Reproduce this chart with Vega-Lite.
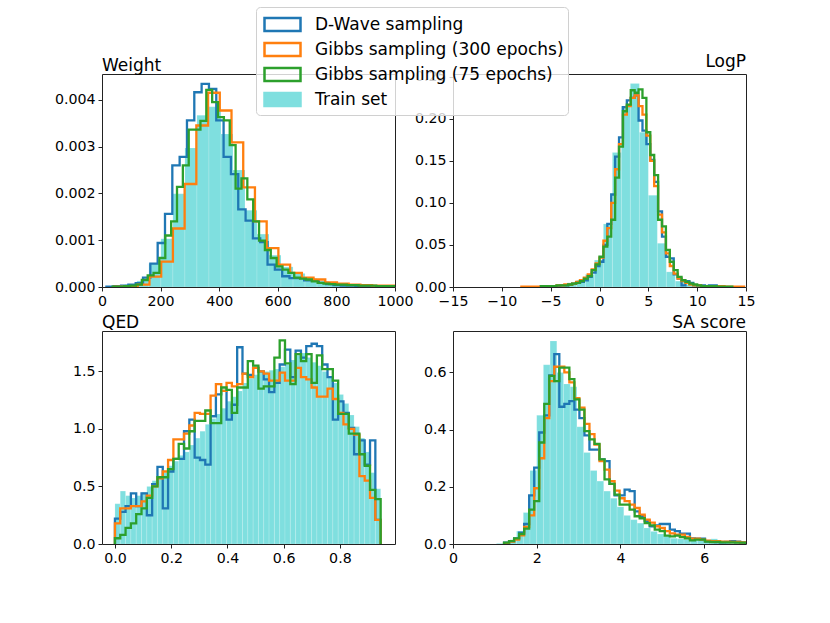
{
  "$schema": "https://vega.github.io/schema/vega-lite/v6.json",
  "description": "Histograms of Weight, LogP, QED and SA score for D-Wave sampling, Gibbs sampling and the train set",
  "padding": {"left": 53, "top": 6, "right": 0, "bottom": 0},
  "columns": 2,
  "spacing": {"row": 44, "column": 58},
  "bounds": "flush",
  "resolve": {"scale": {"x": "independent", "y": "independent", "color": "shared"}},
  "datasets": {
    "wT": [
      {"x": 37, "x2": 78, "y": 0.00002}, {"x": 78, "x2": 119, "y": 0.00005}, {"x": 119, "x2": 160, "y": 0.00013},
      {"x": 160, "x2": 201, "y": 0.0005}, {"x": 201, "x2": 242, "y": 0.00103}, {"x": 242, "x2": 283, "y": 0.00199},
      {"x": 283, "x2": 324, "y": 0.00297}, {"x": 324, "x2": 365, "y": 0.00367}, {"x": 365, "x2": 406, "y": 0.00385},
      {"x": 406, "x2": 447, "y": 0.00327}, {"x": 447, "x2": 488, "y": 0.0025}, {"x": 488, "x2": 529, "y": 0.00164},
      {"x": 529, "x2": 570, "y": 0.00113}, {"x": 570, "x2": 611, "y": 0.00068}, {"x": 611, "x2": 652, "y": 0.00043},
      {"x": 652, "x2": 693, "y": 0.00029}, {"x": 693, "x2": 734, "y": 0.00018}, {"x": 734, "x2": 775, "y": 0.00012},
      {"x": 775, "x2": 816, "y": 0.00008}, {"x": 816, "x2": 857, "y": 0.00006}, {"x": 857, "x2": 898, "y": 0.00004},
      {"x": 898, "x2": 939, "y": 0.00003}, {"x": 939, "x2": 980, "y": 0.00003}, {"x": 980, "x2": 1021, "y": 0.00002}
    ],
    "wD": [
      {"x": 15, "y": 0}, {"x": 15, "y": 0.00001}, {"x": 40, "y": 0.00002}, {"x": 65, "y": 0.00003}, {"x": 90, "y": 0.00005},
      {"x": 115, "y": 0.00008}, {"x": 140, "y": 0.0002}, {"x": 165, "y": 0.0005}, {"x": 190, "y": 0.00094},
      {"x": 215, "y": 0.00156}, {"x": 240, "y": 0.0026}, {"x": 265, "y": 0.00278}, {"x": 290, "y": 0.00356},
      {"x": 315, "y": 0.00416}, {"x": 340, "y": 0.00434}, {"x": 365, "y": 0.00423}, {"x": 390, "y": 0.00356},
      {"x": 415, "y": 0.00278}, {"x": 440, "y": 0.00241}, {"x": 465, "y": 0.00166}, {"x": 490, "y": 0.00142},
      {"x": 515, "y": 0.00104}, {"x": 540, "y": 0.00096}, {"x": 565, "y": 0.00048}, {"x": 590, "y": 0.00037},
      {"x": 615, "y": 0.00023}, {"x": 640, "y": 0.00019}, {"x": 665, "y": 0.00019}, {"x": 690, "y": 0.00014},
      {"x": 715, "y": 0.00014}, {"x": 740, "y": 0.00009}, {"x": 765, "y": 0.00006}, {"x": 790, "y": 0.00004},
      {"x": 815, "y": 0.00003}, {"x": 840, "y": 0.00003}, {"x": 865, "y": 0.00002}, {"x": 890, "y": 0.00002},
      {"x": 915, "y": 0.00002}, {"x": 940, "y": 0.00001}, {"x": 965, "y": 0.00001}, {"x": 990, "y": 0.00001},
      {"x": 1015, "y": 0}
    ],
    "wO": [
      {"x": 42, "y": 0}, {"x": 42, "y": 0.00001}, {"x": 82, "y": 0.00002}, {"x": 122, "y": 0.00005}, {"x": 162, "y": 0.00022},
      {"x": 202, "y": 0.00054}, {"x": 242, "y": 0.00125}, {"x": 282, "y": 0.0022}, {"x": 322, "y": 0.00345},
      {"x": 362, "y": 0.00415}, {"x": 402, "y": 0.00377}, {"x": 442, "y": 0.00309}, {"x": 482, "y": 0.00213},
      {"x": 522, "y": 0.0014}, {"x": 562, "y": 0.00083}, {"x": 602, "y": 0.00048}, {"x": 642, "y": 0.0003},
      {"x": 682, "y": 0.0002}, {"x": 722, "y": 0.00016}, {"x": 762, "y": 0.0001}, {"x": 802, "y": 0.00007},
      {"x": 842, "y": 0.00005}, {"x": 882, "y": 0.00004}, {"x": 922, "y": 0.00003}, {"x": 962, "y": 0.00003},
      {"x": 1002, "y": 0}
    ],
    "wG": [
      {"x": 36, "y": 0}, {"x": 36, "y": 0.00001}, {"x": 56, "y": 0.00001}, {"x": 76, "y": 0.00002}, {"x": 96, "y": 0.00003},
      {"x": 116, "y": 0.00005}, {"x": 136, "y": 0.00015}, {"x": 156, "y": 0.00025}, {"x": 176, "y": 0.0003},
      {"x": 196, "y": 0.00062}, {"x": 216, "y": 0.0011}, {"x": 236, "y": 0.0014}, {"x": 256, "y": 0.00214},
      {"x": 276, "y": 0.0026}, {"x": 296, "y": 0.00336}, {"x": 316, "y": 0.00336}, {"x": 336, "y": 0.00355},
      {"x": 356, "y": 0.00421}, {"x": 376, "y": 0.00395}, {"x": 396, "y": 0.00363}, {"x": 416, "y": 0.00356},
      {"x": 436, "y": 0.00303}, {"x": 456, "y": 0.0021}, {"x": 476, "y": 0.00232}, {"x": 496, "y": 0.00187},
      {"x": 516, "y": 0.0014}, {"x": 536, "y": 0.00099}, {"x": 556, "y": 0.00079}, {"x": 576, "y": 0.00062},
      {"x": 596, "y": 0.00044}, {"x": 616, "y": 0.00037}, {"x": 636, "y": 0.0003}, {"x": 656, "y": 0.0002},
      {"x": 676, "y": 0.00018}, {"x": 696, "y": 0.00016}, {"x": 716, "y": 0.00012}, {"x": 736, "y": 0.00009},
      {"x": 756, "y": 0.00007}, {"x": 776, "y": 0.00006}, {"x": 796, "y": 0.00005}, {"x": 816, "y": 0.00005},
      {"x": 836, "y": 0.00004}, {"x": 856, "y": 0.00004}, {"x": 876, "y": 0.00003}, {"x": 896, "y": 0.00003},
      {"x": 916, "y": 0.00003}, {"x": 936, "y": 0.00002}, {"x": 956, "y": 0.00002}, {"x": 976, "y": 0.00002},
      {"x": 996, "y": 0}
    ],
    "lT": [
      {"x": -7.88, "x2": -6.96, "y": 0.0005}, {"x": -6.96, "x2": -6.04, "y": 0.0005}, {"x": -6.04, "x2": -5.12, "y": 0.001},
      {"x": -5.12, "x2": -4.2, "y": 0.002}, {"x": -4.2, "x2": -3.28, "y": 0.003}, {"x": -3.28, "x2": -2.36, "y": 0.005},
      {"x": -2.36, "x2": -1.44, "y": 0.008}, {"x": -1.44, "x2": -0.52, "y": 0.015}, {"x": -0.52, "x2": 0.4, "y": 0.032},
      {"x": 0.4, "x2": 1.32, "y": 0.075}, {"x": 1.32, "x2": 2.24, "y": 0.16}, {"x": 2.24, "x2": 3.16, "y": 0.215},
      {"x": 3.16, "x2": 4.08, "y": 0.242}, {"x": 4.08, "x2": 5.0, "y": 0.184}, {"x": 5.0, "x2": 5.92, "y": 0.109},
      {"x": 5.92, "x2": 6.84, "y": 0.052}, {"x": 6.84, "x2": 7.76, "y": 0.018}, {"x": 7.76, "x2": 8.68, "y": 0.007},
      {"x": 8.68, "x2": 9.6, "y": 0.003}, {"x": 9.6, "x2": 10.52, "y": 0.001}, {"x": 10.52, "x2": 11.44, "y": 0.001},
      {"x": 11.44, "x2": 12.36, "y": 0.0005}
    ],
    "lD": [
      {"x": -6.0, "y": 0}, {"x": -6.0, "y": 0.001}, {"x": -5.6, "y": 0.001}, {"x": -5.2, "y": 0.001}, {"x": -4.8, "y": 0.001},
      {"x": -4.4, "y": 0.001}, {"x": -4.0, "y": 0.002}, {"x": -3.6, "y": 0.002}, {"x": -3.2, "y": 0.003},
      {"x": -2.8, "y": 0.004}, {"x": -2.4, "y": 0.005}, {"x": -2.0, "y": 0.006}, {"x": -1.6, "y": 0.008},
      {"x": -1.2, "y": 0.012}, {"x": -0.8, "y": 0.017}, {"x": -0.4, "y": 0.025}, {"x": 0.0, "y": 0.03},
      {"x": 0.4, "y": 0.05}, {"x": 0.8, "y": 0.075}, {"x": 1.2, "y": 0.11}, {"x": 1.6, "y": 0.155},
      {"x": 2.0, "y": 0.178}, {"x": 2.4, "y": 0.214}, {"x": 2.8, "y": 0.222}, {"x": 3.2, "y": 0.225},
      {"x": 3.6, "y": 0.228}, {"x": 4.0, "y": 0.198}, {"x": 4.4, "y": 0.186}, {"x": 4.8, "y": 0.17},
      {"x": 5.2, "y": 0.151}, {"x": 5.6, "y": 0.125}, {"x": 6.0, "y": 0.09}, {"x": 6.4, "y": 0.06},
      {"x": 6.8, "y": 0.036}, {"x": 7.2, "y": 0.034}, {"x": 7.6, "y": 0.015}, {"x": 8.0, "y": 0.01},
      {"x": 8.4, "y": 0.002}, {"x": 8.8, "y": 0.007}, {"x": 9.2, "y": 0.005}, {"x": 9.6, "y": 0.002},
      {"x": 10.0, "y": 0.002}, {"x": 10.4, "y": 0.002}, {"x": 10.8, "y": 0.001}, {"x": 11.2, "y": 0.002},
      {"x": 11.6, "y": 0.002}, {"x": 12.0, "y": 0}
    ],
    "lO": [
      {"x": -8.0, "y": 0}, {"x": -8.0, "y": 0.0005}, {"x": -7.6, "y": 0.0005}, {"x": -7.2, "y": 0.0005}, {"x": -6.8, "y": 0.0005},
      {"x": -6.4, "y": 0.0005}, {"x": -6.0, "y": 0.001}, {"x": -5.6, "y": 0.001}, {"x": -5.2, "y": 0.001},
      {"x": -4.8, "y": 0.001}, {"x": -4.4, "y": 0.002}, {"x": -4.0, "y": 0.002}, {"x": -3.6, "y": 0.003},
      {"x": -3.2, "y": 0.003}, {"x": -2.8, "y": 0.004}, {"x": -2.4, "y": 0.006}, {"x": -2.0, "y": 0.008},
      {"x": -1.6, "y": 0.011}, {"x": -1.2, "y": 0.015}, {"x": -0.8, "y": 0.021}, {"x": -0.4, "y": 0.028},
      {"x": 0.0, "y": 0.035}, {"x": 0.4, "y": 0.055}, {"x": 0.8, "y": 0.07}, {"x": 1.2, "y": 0.1},
      {"x": 1.6, "y": 0.14}, {"x": 2.0, "y": 0.17}, {"x": 2.4, "y": 0.205}, {"x": 2.8, "y": 0.215},
      {"x": 3.2, "y": 0.225}, {"x": 3.6, "y": 0.228}, {"x": 4.0, "y": 0.215}, {"x": 4.4, "y": 0.205},
      {"x": 4.8, "y": 0.18}, {"x": 5.2, "y": 0.15}, {"x": 5.6, "y": 0.12}, {"x": 6.0, "y": 0.086},
      {"x": 6.4, "y": 0.065}, {"x": 6.8, "y": 0.04}, {"x": 7.2, "y": 0.025}, {"x": 7.6, "y": 0.016},
      {"x": 8.0, "y": 0.01}, {"x": 8.4, "y": 0.007}, {"x": 8.8, "y": 0.005}, {"x": 9.2, "y": 0.003},
      {"x": 9.6, "y": 0.002}, {"x": 10.0, "y": 0.002}, {"x": 10.4, "y": 0.001}, {"x": 10.8, "y": 0.001},
      {"x": 11.2, "y": 0.001}, {"x": 11.6, "y": 0.001}, {"x": 12.0, "y": 0.001}, {"x": 12.4, "y": 0.001},
      {"x": 12.8, "y": 0.0005}, {"x": 13.2, "y": 0.0005}, {"x": 13.6, "y": 0.0005}, {"x": 14.0, "y": 0.0005},
      {"x": 14.4, "y": 0.0005}, {"x": 14.8, "y": 0}
    ],
    "lG": [
      {"x": -6.0, "y": 0}, {"x": -6.0, "y": 0.001}, {"x": -5.6, "y": 0.001}, {"x": -5.2, "y": 0.001}, {"x": -4.8, "y": 0.001},
      {"x": -4.4, "y": 0.002}, {"x": -4.0, "y": 0.002}, {"x": -3.6, "y": 0.002}, {"x": -3.2, "y": 0.003},
      {"x": -2.8, "y": 0.004}, {"x": -2.4, "y": 0.005}, {"x": -2.0, "y": 0.007}, {"x": -1.6, "y": 0.01},
      {"x": -1.2, "y": 0.013}, {"x": -0.8, "y": 0.02}, {"x": -0.4, "y": 0.027}, {"x": 0.0, "y": 0.036},
      {"x": 0.4, "y": 0.048}, {"x": 0.8, "y": 0.06}, {"x": 1.2, "y": 0.08}, {"x": 1.6, "y": 0.13},
      {"x": 2.0, "y": 0.167}, {"x": 2.4, "y": 0.209}, {"x": 2.8, "y": 0.217}, {"x": 3.2, "y": 0.234},
      {"x": 3.6, "y": 0.231}, {"x": 4.0, "y": 0.235}, {"x": 4.4, "y": 0.225}, {"x": 4.8, "y": 0.184},
      {"x": 5.2, "y": 0.157}, {"x": 5.6, "y": 0.133}, {"x": 6.0, "y": 0.08}, {"x": 6.4, "y": 0.072},
      {"x": 6.8, "y": 0.044}, {"x": 7.2, "y": 0.03}, {"x": 7.6, "y": 0.02}, {"x": 8.0, "y": 0.012},
      {"x": 8.4, "y": 0.008}, {"x": 8.8, "y": 0.006}, {"x": 9.2, "y": 0.004}, {"x": 9.6, "y": 0.003},
      {"x": 10.0, "y": 0.002}, {"x": 10.4, "y": 0.001}, {"x": 10.8, "y": 0.001}, {"x": 11.2, "y": 0.001},
      {"x": 11.6, "y": 0.001}, {"x": 12.0, "y": 0.0005}, {"x": 12.4, "y": 0.0005}, {"x": 12.8, "y": 0.0005},
      {"x": 13.2, "y": 0.0005}, {"x": 13.6, "y": 0}
    ],
    "q": [
      {"x": 0, "D": 0, "G3": 0, "G7": 0},
      {"x": 0, "x2": 0.0189, "D": 0.22, "G3": 0.18, "G7": 0.05, "T": 0.35},
      {"x": 0.0189, "x2": 0.0378, "D": 0.28, "G3": 0.31, "G7": 0.08, "T": 0.46},
      {"x": 0.0378, "x2": 0.0567, "D": 0.33, "G3": 0.31, "G7": 0.14, "T": 0.42},
      {"x": 0.0567, "x2": 0.0756, "D": 0.44, "G3": 0.33, "G7": 0.18, "T": 0.4},
      {"x": 0.0756, "x2": 0.0945, "D": 0.33, "G3": 0.33, "G7": 0.26, "T": 0.42},
      {"x": 0.0945, "x2": 0.1134, "D": 0.44, "G3": 0.37, "G7": 0.31, "T": 0.45},
      {"x": 0.1134, "x2": 0.1323, "D": 0.25, "G3": 0.42, "G7": 0.4, "T": 0.5},
      {"x": 0.1323, "x2": 0.1512, "D": 0.52, "G3": 0.5, "G7": 0.5, "T": 0.55},
      {"x": 0.1512, "x2": 0.1701, "D": 0.67, "G3": 0.57, "G7": 0.58, "T": 0.58},
      {"x": 0.1701, "x2": 0.189, "D": 0.31, "G3": 0.63, "G7": 0.58, "T": 0.62},
      {"x": 0.189, "x2": 0.2079, "D": 0.63, "G3": 0.73, "G7": 0.65, "T": 0.68},
      {"x": 0.2079, "x2": 0.2268, "D": 0.74, "G3": 0.91, "G7": 0.74, "T": 0.72},
      {"x": 0.2268, "x2": 0.2457, "D": 0.74, "G3": 0.91, "G7": 0.87, "T": 0.77},
      {"x": 0.2457, "x2": 0.2646, "D": 0.98, "G3": 0.96, "G7": 0.83, "T": 0.8},
      {"x": 0.2646, "x2": 0.2835, "D": 1.08, "G3": 1.03, "G7": 0.98, "T": 0.86},
      {"x": 0.2835, "x2": 0.3024, "D": 0.75, "G3": 1.14, "G7": 1.07, "T": 0.92},
      {"x": 0.3024, "x2": 0.3213, "D": 0.73, "G3": 1.13, "G7": 1.07, "T": 0.98},
      {"x": 0.3213, "x2": 0.3402, "D": 0.69, "G3": 1.13, "G7": 1.16, "T": 1.04},
      {"x": 0.3402, "x2": 0.3591, "D": 1.11, "G3": 1.29, "G7": 1.05, "T": 1.09},
      {"x": 0.3591, "x2": 0.378, "D": 1.3, "G3": 1.39, "G7": 1.05, "T": 1.13},
      {"x": 0.378, "x2": 0.3969, "D": 1.33, "G3": 1.33, "G7": 1.36, "T": 1.18},
      {"x": 0.3969, "x2": 0.4158, "D": 1.08, "G3": 1.4, "G7": 1.34, "T": 1.24},
      {"x": 0.4158, "x2": 0.4347, "D": 1.21, "G3": 1.37, "G7": 1.14, "T": 1.28},
      {"x": 0.4347, "x2": 0.4536, "D": 1.71, "G3": 1.39, "G7": 1.36, "T": 1.33},
      {"x": 0.4536, "x2": 0.4725, "D": 1.48, "G3": 1.48, "G7": 1.36, "T": 1.4},
      {"x": 0.4725, "x2": 0.4914, "D": 1.47, "G3": 1.45, "G7": 1.59, "T": 1.44},
      {"x": 0.4914, "x2": 0.5103, "D": 1.53, "G3": 1.53, "G7": 1.55, "T": 1.47},
      {"x": 0.5103, "x2": 0.5292, "D": 1.5, "G3": 1.5, "G7": 1.35, "T": 1.5},
      {"x": 0.5292, "x2": 0.5481, "D": 1.43, "G3": 1.48, "G7": 1.37, "T": 1.5},
      {"x": 0.5481, "x2": 0.567, "D": 1.32, "G3": 1.42, "G7": 1.37, "T": 1.51},
      {"x": 0.567, "x2": 0.5859, "D": 1.4, "G3": 1.42, "G7": 1.62, "T": 1.52},
      {"x": 0.5859, "x2": 0.6048, "D": 1.56, "G3": 1.49, "G7": 1.77, "T": 1.54},
      {"x": 0.6048, "x2": 0.6237, "D": 1.69, "G3": 1.42, "G7": 1.57, "T": 1.56},
      {"x": 0.6237, "x2": 0.6426, "D": 1.45, "G3": 1.42, "G7": 1.39, "T": 1.6},
      {"x": 0.6426, "x2": 0.6615, "D": 1.68, "G3": 1.53, "G7": 1.65, "T": 1.64},
      {"x": 0.6615, "x2": 0.6804, "D": 1.62, "G3": 1.45, "G7": 1.59, "T": 1.66},
      {"x": 0.6804, "x2": 0.6993, "D": 1.72, "G3": 1.43, "G7": 1.65, "T": 1.62},
      {"x": 0.6993, "x2": 0.7182, "D": 1.74, "G3": 1.36, "G7": 1.4, "T": 1.58},
      {"x": 0.7182, "x2": 0.7371, "D": 1.72, "G3": 1.28, "G7": 1.64, "T": 1.55},
      {"x": 0.7371, "x2": 0.756, "D": 1.56, "G3": 1.28, "G7": 1.52, "T": 1.5},
      {"x": 0.756, "x2": 0.7749, "D": 1.45, "G3": 1.35, "G7": 1.52, "T": 1.45},
      {"x": 0.7749, "x2": 0.7938, "D": 1.08, "G3": 1.26, "G7": 1.42, "T": 1.4},
      {"x": 0.7938, "x2": 0.8127, "D": 1.24, "G3": 1.14, "G7": 1.13, "T": 1.3},
      {"x": 0.8127, "x2": 0.8316, "D": 1.14, "G3": 1.04, "G7": 1.13, "T": 1.22},
      {"x": 0.8316, "x2": 0.8505, "D": 1.01, "G3": 1.0, "G7": 0.96, "T": 1.12},
      {"x": 0.8505, "x2": 0.8694, "D": 0.78, "G3": 0.95, "G7": 0.96, "T": 1.02},
      {"x": 0.8694, "x2": 0.8883, "D": 0.9, "G3": 0.59, "G7": 0.78, "T": 0.92},
      {"x": 0.8883, "x2": 0.9072, "D": 0.69, "G3": 0.55, "G7": 0.68, "T": 0.8},
      {"x": 0.9072, "x2": 0.9261, "D": 0.9, "G3": 0.4, "G7": 0.47, "T": 0.62},
      {"x": 0.9261, "x2": 0.945, "D": 0.21, "G3": 0.21, "G7": 0.39, "T": 0.48},
      {"x": 0.945, "D": 0, "G3": 0, "G7": 0}
    ],
    "sT": [
      {"x": 1.04, "x2": 1.2, "y": 0.002}, {"x": 1.2, "x2": 1.36, "y": 0.005}, {"x": 1.36, "x2": 1.52, "y": 0.015},
      {"x": 1.52, "x2": 1.68, "y": 0.045}, {"x": 1.68, "x2": 1.84, "y": 0.11}, {"x": 1.84, "x2": 2.0, "y": 0.257},
      {"x": 2.0, "x2": 2.16, "y": 0.45}, {"x": 2.16, "x2": 2.32, "y": 0.627}, {"x": 2.32, "x2": 2.48, "y": 0.71},
      {"x": 2.48, "x2": 2.64, "y": 0.6}, {"x": 2.64, "x2": 2.8, "y": 0.56}, {"x": 2.8, "x2": 2.96, "y": 0.55},
      {"x": 2.96, "x2": 3.12, "y": 0.41}, {"x": 3.12, "x2": 3.28, "y": 0.32}, {"x": 3.28, "x2": 3.44, "y": 0.257},
      {"x": 3.44, "x2": 3.6, "y": 0.22}, {"x": 3.6, "x2": 3.76, "y": 0.185}, {"x": 3.76, "x2": 3.92, "y": 0.16},
      {"x": 3.92, "x2": 4.08, "y": 0.13}, {"x": 4.08, "x2": 4.24, "y": 0.1}, {"x": 4.24, "x2": 4.4, "y": 0.085},
      {"x": 4.4, "x2": 4.56, "y": 0.073}, {"x": 4.56, "x2": 4.72, "y": 0.056}, {"x": 4.72, "x2": 4.88, "y": 0.044},
      {"x": 4.88, "x2": 5.04, "y": 0.035}, {"x": 5.04, "x2": 5.2, "y": 0.027}, {"x": 5.2, "x2": 5.36, "y": 0.02},
      {"x": 5.36, "x2": 5.52, "y": 0.018}, {"x": 5.52, "x2": 5.68, "y": 0.016}, {"x": 5.68, "x2": 5.84, "y": 0.015},
      {"x": 5.84, "x2": 6.0, "y": 0.014}, {"x": 6.0, "x2": 6.16, "y": 0.015}, {"x": 6.16, "x2": 6.32, "y": 0.018},
      {"x": 6.32, "x2": 6.48, "y": 0.012}, {"x": 6.48, "x2": 6.64, "y": 0.009}, {"x": 6.64, "x2": 6.8, "y": 0.007},
      {"x": 6.8, "x2": 6.96, "y": 0.006}
    ],
    "s": [
      {"x": 1.22, "D": 0, "G3": 0, "G7": 0},
      {"x": 1.22, "D": 0.005, "G3": 0.003, "G7": 0.005}, {"x": 1.34, "D": 0.01, "G3": 0.008, "G7": 0.01},
      {"x": 1.46, "D": 0.02, "G3": 0.015, "G7": 0.02}, {"x": 1.58, "D": 0.04, "G3": 0.03, "G7": 0.035},
      {"x": 1.7, "D": 0.07, "G3": 0.06, "G7": 0.054}, {"x": 1.82, "D": 0.17, "G3": 0.1, "G7": 0.12},
      {"x": 1.94, "D": 0.267, "G3": 0.195, "G7": 0.15}, {"x": 2.06, "D": 0.39, "G3": 0.3, "G7": 0.355},
      {"x": 2.18, "D": 0.45, "G3": 0.44, "G7": 0.49}, {"x": 2.3, "D": 0.59, "G3": 0.57, "G7": 0.588},
      {"x": 2.42, "D": 0.664, "G3": 0.62, "G7": 0.57}, {"x": 2.54, "D": 0.48, "G3": 0.62, "G7": 0.617},
      {"x": 2.66, "D": 0.49, "G3": 0.6, "G7": 0.617}, {"x": 2.78, "D": 0.5, "G3": 0.565, "G7": 0.577},
      {"x": 2.9, "D": 0.47, "G3": 0.51, "G7": 0.506}, {"x": 3.02, "D": 0.44, "G3": 0.477, "G7": 0.47},
      {"x": 3.14, "D": 0.38, "G3": 0.42, "G7": 0.395}, {"x": 3.26, "D": 0.33, "G3": 0.384, "G7": 0.366},
      {"x": 3.38, "D": 0.33, "G3": 0.348, "G7": 0.35}, {"x": 3.5, "D": 0.296, "G3": 0.29, "G7": 0.296},
      {"x": 3.62, "D": 0.29, "G3": 0.26, "G7": 0.226}, {"x": 3.74, "D": 0.21, "G3": 0.22, "G7": 0.21},
      {"x": 3.86, "D": 0.17, "G3": 0.187, "G7": 0.173}, {"x": 3.98, "D": 0.17, "G3": 0.16, "G7": 0.138},
      {"x": 4.1, "D": 0.19, "G3": 0.15, "G7": 0.138}, {"x": 4.22, "D": 0.185, "G3": 0.138, "G7": 0.12},
      {"x": 4.34, "D": 0.114, "G3": 0.126, "G7": 0.097}, {"x": 4.46, "D": 0.097, "G3": 0.103, "G7": 0.09},
      {"x": 4.58, "D": 0.08, "G3": 0.085, "G7": 0.073}, {"x": 4.7, "D": 0.062, "G3": 0.075, "G7": 0.065},
      {"x": 4.82, "D": 0.065, "G3": 0.062, "G7": 0.05}, {"x": 4.94, "D": 0.07, "G3": 0.056, "G7": 0.045},
      {"x": 5.06, "D": 0.07, "G3": 0.045, "G7": 0.029}, {"x": 5.18, "D": 0.05, "G3": 0.037, "G7": 0.027},
      {"x": 5.3, "D": 0.045, "G3": 0.033, "G7": 0.029}, {"x": 5.42, "D": 0.036, "G3": 0.033, "G7": 0.024},
      {"x": 5.54, "D": 0.036, "G3": 0.025, "G7": 0.02}, {"x": 5.66, "D": 0.02, "G3": 0.019, "G7": 0.013},
      {"x": 5.78, "D": 0.019, "G3": 0.019, "G7": 0.015}, {"x": 5.9, "D": 0.019, "G3": 0.015, "G7": 0.015},
      {"x": 6.02, "D": 0.009, "G3": 0.012, "G7": 0.008}, {"x": 6.14, "D": 0.008, "G3": 0.01, "G7": 0.007},
      {"x": 6.26, "D": 0.007, "G3": 0.01, "G7": 0.007}, {"x": 6.38, "D": 0.006, "G3": 0.008, "G7": 0.006},
      {"x": 6.5, "D": 0.007, "G3": 0.008, "G7": 0.006}, {"x": 6.62, "D": 0.01, "G3": 0.007, "G7": 0.006},
      {"x": 6.74, "D": 0.008, "G3": 0.007, "G7": 0.005}, {"x": 6.86, "D": 0.005, "G3": 0.006, "G7": 0.005},
      {"x": 6.98, "D": 0.005, "G3": 0.006, "G7": 0.004},
      {"x": 7.1, "D": 0, "G3": 0, "G7": 0}
    ]
  },
  "concat": [
    {
      "width": 293,
      "height": 213,
      "title": {"text": "Weight", "anchor": "start"},
      "layer": [
        {
          "data": {"name": "wT"},
          "mark": {"type": "rect", "clip": true, "opacity": 1, "stroke": "#ffffff", "strokeOpacity": 0.3, "strokeWidth": 0.5},
          "encoding": {
            "x": {"field": "x", "type": "quantitative", "title": null, "scale": {"domain": [0, 1000], "nice": false, "zero": false}, "axis": {"values": [0, 200, 400, 600, 800, 1000], "format": "d"}},
            "x2": {"field": "x2"},
            "y": {"field": "y", "type": "quantitative", "title": null, "scale": {"domain": [0, 0.00455], "nice": false}, "axis": {"values": [0, 0.001, 0.002, 0.003, 0.004], "format": ".3f"}},
            "color": {
              "datum": "T",
              "type": "nominal",
              "scale": {"domain": ["D", "G300", "G75", "T"], "range": ["#1f77b4", "#ff7f0e", "#2ca02c", "#7fdfdf"]},
              "legend": {
                "orient": "none",
                "legendX": 154,
                "legendY": -67,
                "title": null,
                "labelExpr": "{'D': 'D-Wave sampling', 'G300': 'Gibbs sampling (300 epochs)', 'G75': 'Gibbs sampling (75 epochs)', 'T': 'Train set'}[datum.label]",
                "labelLimit": 0,
                "symbolType": "M-0.75,-0.54H2.25V0.54H-0.75Z",
                "symbolSize": 576,
                "symbolStrokeWidth": 2.5,
                "labelFontSize": 17,
                "labelFont": "DejaVu Sans",
                "labelColor": "black",
                "labelOffset": 28,
                "fillColor": "rgba(255,255,255,0.8)",
                "strokeColor": "#d0d0d0",
                "cornerRadius": 4,
                "padding": 4,
                "rowPadding": 0,
                "encoding": {
                  "symbols": {
                    "fillOpacity": {"value": {"expr": "datum.value === 'T' ? 1 : 0"}}
                  }
                }
              }
            }
          }
        },
        {
          "data": {"name": "wD"},
          "mark": {"type": "line", "interpolate": "step-after", "strokeWidth": 2.3, "clip": true},
          "encoding": {"x": {"field": "x", "type": "quantitative"}, "y": {"field": "y", "type": "quantitative"}, "color": {"datum": "D", "type": "nominal"}}
        },
        {
          "data": {"name": "wO"},
          "mark": {"type": "line", "interpolate": "step-after", "strokeWidth": 2.3, "clip": true},
          "encoding": {"x": {"field": "x", "type": "quantitative"}, "y": {"field": "y", "type": "quantitative"}, "color": {"datum": "G300", "type": "nominal"}}
        },
        {
          "data": {"name": "wG"},
          "mark": {"type": "line", "interpolate": "step-after", "strokeWidth": 2.3, "clip": true},
          "encoding": {"x": {"field": "x", "type": "quantitative"}, "y": {"field": "y", "type": "quantitative"}, "color": {"datum": "G75", "type": "nominal"}}
        }
      ]
    },
    {
      "width": 293,
      "height": 213,
      "title": {"text": "LogP", "anchor": "end"},
      "layer": [
        {
          "data": {"name": "lT"},
          "mark": {"type": "rect", "clip": true, "opacity": 1, "stroke": "#ffffff", "strokeOpacity": 0.3, "strokeWidth": 0.5},
          "encoding": {
            "x": {"field": "x", "type": "quantitative", "title": null, "scale": {"domain": [-15, 15], "nice": false, "zero": false}, "axis": {"values": [-15, -10, -5, 0, 5, 10, 15], "format": "d"}},
            "x2": {"field": "x2"},
            "y": {"field": "y", "type": "quantitative", "title": null, "scale": {"domain": [0, 0.2533], "nice": false}, "axis": {"values": [0, 0.05, 0.1, 0.15, 0.2, 0.25], "format": ".2f"}},
            "color": {"datum": "T", "type": "nominal"}
          }
        },
        {
          "data": {"name": "lD"},
          "mark": {"type": "line", "interpolate": "step-after", "strokeWidth": 2.3, "clip": true},
          "encoding": {"x": {"field": "x", "type": "quantitative"}, "y": {"field": "y", "type": "quantitative"}, "color": {"datum": "D", "type": "nominal"}}
        },
        {
          "data": {"name": "lO"},
          "mark": {"type": "line", "interpolate": "step-after", "strokeWidth": 2.3, "clip": true},
          "encoding": {"x": {"field": "x", "type": "quantitative"}, "y": {"field": "y", "type": "quantitative"}, "color": {"datum": "G300", "type": "nominal"}}
        },
        {
          "data": {"name": "lG"},
          "mark": {"type": "line", "interpolate": "step-after", "strokeWidth": 2.3, "clip": true},
          "encoding": {"x": {"field": "x", "type": "quantitative"}, "y": {"field": "y", "type": "quantitative"}, "color": {"datum": "G75", "type": "nominal"}}
        }
      ]
    },
    {
      "width": 293,
      "height": 213,
      "title": {"text": "QED", "anchor": "start"},
      "data": {"name": "q"},
      "layer": [
        {
          "mark": {"type": "rect", "clip": true, "opacity": 1, "stroke": "#ffffff", "strokeOpacity": 0.3, "strokeWidth": 0.5},
          "encoding": {
            "x": {"field": "x", "type": "quantitative", "title": null, "scale": {"domain": [-0.046, 0.996], "nice": false, "zero": false}, "axis": {"values": [0, 0.2, 0.4, 0.6, 0.8], "format": ".1f"}},
            "x2": {"field": "x2"},
            "y": {"field": "T", "type": "quantitative", "title": null, "scale": {"domain": [0, 1.851], "nice": false}, "axis": {"values": [0, 0.5, 1, 1.5], "format": ".1f"}},
            "color": {"datum": "T", "type": "nominal"}
          }
        },
        {
          "mark": {"type": "line", "interpolate": "step-after", "strokeWidth": 2.3, "clip": true},
          "encoding": {"x": {"field": "x", "type": "quantitative"}, "y": {"field": "D", "type": "quantitative"}, "color": {"datum": "D", "type": "nominal"}}
        },
        {
          "mark": {"type": "line", "interpolate": "step-after", "strokeWidth": 2.3, "clip": true},
          "encoding": {"x": {"field": "x", "type": "quantitative"}, "y": {"field": "G3", "type": "quantitative"}, "color": {"datum": "G300", "type": "nominal"}}
        },
        {
          "mark": {"type": "line", "interpolate": "step-after", "strokeWidth": 2.3, "clip": true},
          "encoding": {"x": {"field": "x", "type": "quantitative"}, "y": {"field": "G7", "type": "quantitative"}, "color": {"datum": "G75", "type": "nominal"}}
        }
      ]
    },
    {
      "width": 293,
      "height": 213,
      "title": {"text": "SA score", "anchor": "end"},
      "layer": [
        {
          "data": {"name": "sT"},
          "mark": {"type": "rect", "clip": true, "opacity": 1, "stroke": "#ffffff", "strokeOpacity": 0.3, "strokeWidth": 0.5},
          "encoding": {
            "x": {"field": "x", "type": "quantitative", "title": null, "scale": {"domain": [0, 7], "nice": false, "zero": false}, "axis": {"values": [0, 2, 4, 6], "format": "d"}},
            "x2": {"field": "x2"},
            "y": {"field": "y", "type": "quantitative", "title": null, "scale": {"domain": [0, 0.745], "nice": false}, "axis": {"values": [0, 0.2, 0.4, 0.6], "format": ".1f"}},
            "color": {"datum": "T", "type": "nominal"}
          }
        },
        {
          "data": {"name": "s"},
          "mark": {"type": "line", "interpolate": "step-after", "strokeWidth": 2.3, "clip": true},
          "encoding": {"x": {"field": "x", "type": "quantitative"}, "y": {"field": "D", "type": "quantitative"}, "color": {"datum": "D", "type": "nominal"}}
        },
        {
          "data": {"name": "s"},
          "mark": {"type": "line", "interpolate": "step-after", "strokeWidth": 2.3, "clip": true},
          "encoding": {"x": {"field": "x", "type": "quantitative"}, "y": {"field": "G3", "type": "quantitative"}, "color": {"datum": "G300", "type": "nominal"}}
        },
        {
          "data": {"name": "s"},
          "mark": {"type": "line", "interpolate": "step-after", "strokeWidth": 2.3, "clip": true},
          "encoding": {"x": {"field": "x", "type": "quantitative"}, "y": {"field": "G7", "type": "quantitative"}, "color": {"datum": "G75", "type": "nominal"}}
        }
      ]
    }
  ],
  "config": {
    "font": "DejaVu Sans",
    "view": {"stroke": "#222222", "strokeWidth": 1},
    "axis": {
      "grid": false,
      "domain": false,
      "ticks": true,
      "tickColor": "#222222",
      "tickSize": 4,
      "labelFont": "DejaVu Sans",
      "labelFontSize": 14.2,
      "labelColor": "black",
      "labelPadding": 3,
      "labelFlush": false,
      "labelOverlap": false,
      "labelBound": false
    },
    "title": {"font": "DejaVu Sans", "fontSize": 17, "fontWeight": "normal", "color": "black", "offset": -1, "frame": "group"}
  }
}
